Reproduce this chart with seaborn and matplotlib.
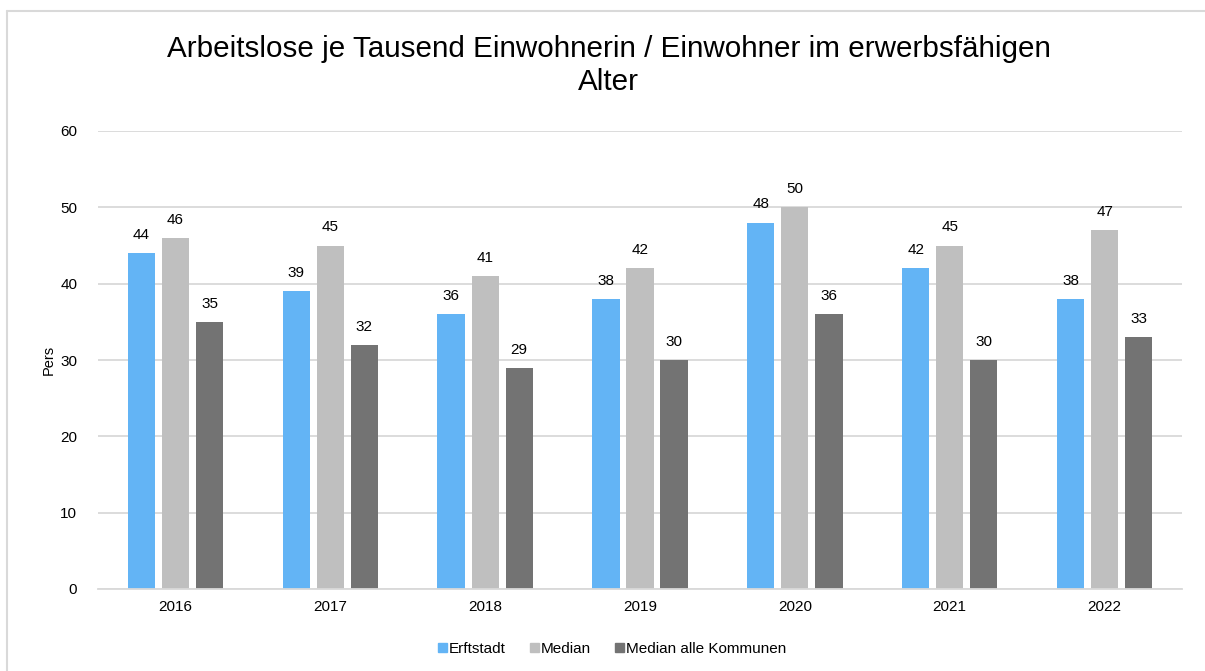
import matplotlib
matplotlib.use("Agg")
import matplotlib.pyplot as plt
import matplotlib.patches as mpatches
from matplotlib.lines import Line2D
import seaborn as sns
import pandas as pd

years = ["2016", "2017", "2018", "2019", "2020", "2021", "2022"]
erftstadt = [44, 39, 36, 38, 48, 42, 38]
median = [46, 45, 41, 42, 50, 45, 47]
median_alle = [35, 32, 29, 30, 36, 30, 33]
series_names = ["Erftstadt", "Median", "Median alle Kommunen"]
colors = ["#63B4F5", "#BFBFBF", "#737373"]

df = pd.DataFrame({
    "Jahr": years * 3,
    "Wert": erftstadt + median + median_alle,
    "Reihe": [series_names[0]] * 7 + [series_names[1]] * 7 + [series_names[2]] * 7,
})

sns.set_style("white")
plt.rcParams["font.family"] = ["Liberation Sans", "DejaVu Sans"]
plt.rcParams["text.color"] = "black"

W, H = 1205, 671
fig = plt.figure(figsize=(W / 100, H / 100), dpi=100)
ax = fig.add_axes([98 / W, 1 - 589 / H, 1084 / W, 458 / H])

sns.barplot(data=df, x="Jahr", y="Wert", hue="Reihe", palette=colors,
            width=0.66, gap=0.2, ax=ax, legend=False, saturation=1,
            linewidth=0, edgecolor="none")

ax.set_ylim(0, 60)
ax.set_yticks(range(0, 61, 10))
ax.yaxis.grid(True, color="#D9D9D9", linewidth=1.3)
ax.set_axisbelow(True)
for s in ["top", "right", "left"]:
    ax.spines[s].set_visible(False)
ax.spines["bottom"].set_color("#D9D9D9")
ax.spines["bottom"].set_linewidth(1.3)
ax.tick_params(axis="both", length=0, labelsize=11, labelcolor="black", pad=8)
ax.tick_params(axis="y", pad=15)
ax.set_xlabel("")
ax.set_ylabel("Pers", fontsize=10.5, labelpad=3, color="black")

for cont in ax.containers:
    ax.bar_label(cont, fmt="%d", padding=8, fontsize=11, color="black")

fig.text(0.505, 1 - 65.5 / H, "Arbeitslose je Tausend Einwohnerin / Einwohner im erwerbsfähigen\nAlter",
         ha="center", va="center", fontsize=21.3, linespacing=1.25, color="black")

handles = [mpatches.Patch(color=c, label=n) for c, n in zip(colors, series_names)]
fig.legend(handles=handles, loc="center", bbox_to_anchor=(0.508, 0.033), ncol=3,
           frameon=False, fontsize=11, handlelength=0.6, handleheight=0.6,
           handletextpad=0.1, columnspacing=1.6, labelcolor="black")

# chart area frame (top and left edges)
x0, y0 = 7.5 / W, 1 - 10.5 / H
fig.add_artist(Line2D([x0, 1.0], [y0, y0], transform=fig.transFigure,
                      color="#D9D9D9", linewidth=1.5))
fig.add_artist(Line2D([x0, x0], [0.0, y0], transform=fig.transFigure,
                      color="#D9D9D9", linewidth=1.5))

fig.savefig("out.png", dpi=100)
